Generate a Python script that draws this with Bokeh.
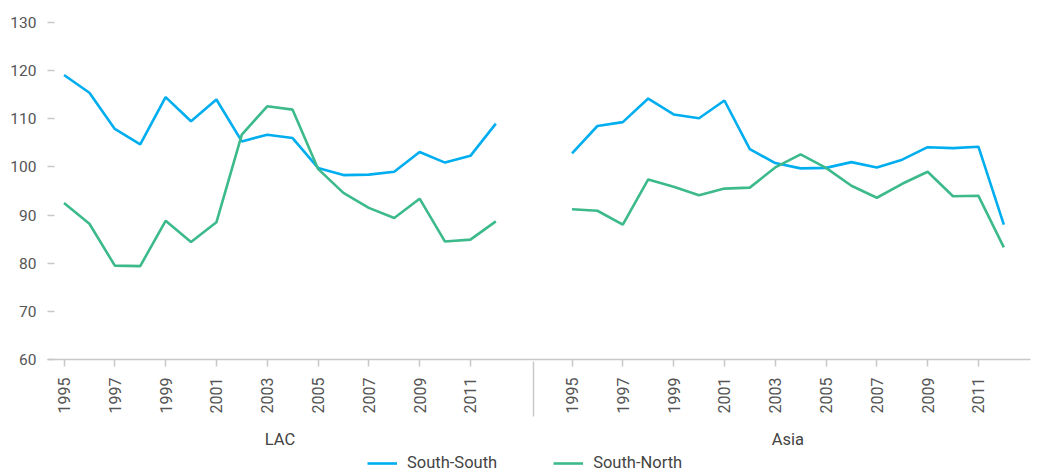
import numpy as np
from bokeh.plotting import figure
from bokeh.layouts import column
from bokeh.models import Range1d, LinearAxis, FixedTicker, Legend, LegendItem, ColumnDataSource
from bokeh.embed import file_html
from bokeh.resources import INLINE

# ---------------- data ----------------
years = ["1995", "1996", "1997", "1998", "1999", "2000", "2001", "2002", "2003",
         "2004", "2005", "2006", "2007", "2008", "2009", "2010", "2011", "2012"]
regions = ["LAC", "Asia"]
series_names = ["South-South", "South-North"]

lac_south_south = [119.1, 115.4, 107.9, 104.7, 114.5, 109.5, 114.0, 105.3, 106.7,
                   106.0, 99.8, 98.3, 98.4, 99.0, 103.1, 100.9, 102.3, 109.0]
lac_south_north = [92.5, 88.2, 79.5, 79.4, 88.8, 84.4, 88.5, 106.7, 112.6,
                   111.9, 99.6, 94.6, 91.5, 89.4, 93.4, 84.5, 84.9, 88.7]
asia_south_south = [102.8, 108.5, 109.3, 114.2, 110.9, 110.1, 113.8, 103.7, 100.8,
                    99.7, 99.8, 101.0, 99.9, 101.5, 104.1, 103.9, 104.2, 88.0]
asia_south_north = [91.2, 90.9, 88.0, 97.4, 95.9, 94.1, 95.5, 95.7, 99.9,
                    102.6, 99.8, 96.1, 93.6, 96.5, 99.0, 93.9, 94.0, 83.3]

y_ticks = [60, 70, 80, 90, 100, 110, 120, 130]

# ---------------- style ----------------
FONT = "Roboto"
BLUE = "#00aeef"
GREEN = "#3cba8b"
GREY_LINE = "#c8c8c8"
TEXT = "#555555"
group_gap = 3
W = 1034

n = len(years)
lac_x = list(range(n))
asia_x = [i + n - 1 + group_gap for i in range(n)]

lac_src = ColumnDataSource(dict(x=lac_x, ss=lac_south_south, sn=lac_south_north))
asia_src = ColumnDataSource(dict(x=asia_x, ss=asia_south_south, sn=asia_south_north))

p = figure(width=W, height=451, output_backend="svg", toolbar_location=None,
           x_range=Range1d(-0.65, asia_x[-1] + 1.05),
           y_range=Range1d(y_ticks[0], y_ticks[-1]),
           x_axis_location=None,
           min_border_top=22, min_border_left=47, min_border_right=4,
           min_border_bottom=92)
p.outline_line_color = None
p.xgrid.visible = False
p.ygrid.visible = False
p.background_fill_color = "white"
p.border_fill_color = "white"

r1 = p.line("x", "ss", source=lac_src, line_color=BLUE, line_width=2.6)
r2 = p.line("x", "sn", source=lac_src, line_color=GREEN, line_width=2.6)
r3 = p.line("x", "ss", source=asia_src, line_color=BLUE, line_width=2.6)
r4 = p.line("x", "sn", source=asia_src, line_color=GREEN, line_width=2.6)

# y axis
ya = p.yaxis[0]
ya.ticker = FixedTicker(ticks=y_ticks)
ya.axis_line_color = None
ya.major_tick_in = 7
ya.major_tick_out = 0
ya.major_tick_line_color = GREY_LINE
ya.major_tick_line_width = 1.5
ya.minor_tick_line_color = None
ya.major_label_standoff = 11
ya.major_label_text_font = FONT
ya.major_label_text_font_size = "15.5px"
ya.major_label_text_color = TEXT

# x axis with year labels
label_pos = []
overrides = {}
for xs in (lac_x, asia_x):
    for i, yr in enumerate(years):
        if int(yr) % 2 == 1:
            label_pos.append(xs[i])
            overrides[xs[i]] = yr
xa = LinearAxis(ticker=FixedTicker(ticks=label_pos, minor_ticks=[]),
                major_label_overrides=overrides,
                major_label_orientation=np.pi / 2,
                axis_line_color=GREY_LINE, axis_line_width=1.5,
                major_tick_in=0, major_tick_out=7,
                major_tick_line_color=GREY_LINE, major_tick_line_width=1.5,
                minor_tick_line_color=None,
                major_label_standoff=11,
                major_label_text_font=FONT, major_label_text_font_size="16px",
                major_label_text_color=TEXT)
p.add_layout(xa, "below")

# group labels + separator axis
group_centers = [float(np.mean(lac_x)), float(np.mean(asia_x))]
separator = (lac_x[-1] + asia_x[0]) / 2
ga = LinearAxis(ticker=FixedTicker(ticks=group_centers, minor_ticks=[separator]),
                major_label_overrides={c: r for c, r in zip(group_centers, regions)},
                axis_line_color=None,
                major_tick_in=0, major_tick_out=0, major_tick_line_color=None,
                minor_tick_in=55, minor_tick_out=0,
                minor_tick_line_color=GREY_LINE, minor_tick_line_width=1.5,
                major_label_standoff=13,
                major_label_text_font=FONT, major_label_text_font_size="16.5px",
                major_label_text_color="#444444")
p.add_layout(ga, "below")

# legend in a thin strip below the chart (its lines lie outside the strip's view)
lg = figure(width=W, height=21, output_backend="svg", toolbar_location=None,
            x_range=Range1d(-1000, -999), y_range=Range1d(-1000, -999),
            x_axis_location=None, y_axis_location=None,
            min_border=0)
lg.outline_line_color = None
lg.xgrid.visible = False
lg.ygrid.visible = False
k1 = lg.line("x", "ss", source=lac_src, line_color=BLUE, line_width=2.6)
k2 = lg.line("x", "sn", source=lac_src, line_color=GREEN, line_width=2.6)
legend = Legend(items=[LegendItem(label=series_names[0], renderers=[k1]),
                       LegendItem(label=series_names[1], renderers=[k2])],
                orientation="horizontal", location=(320, 0),
                border_line_color=None, background_fill_alpha=0,
                label_text_font=FONT, label_text_font_size="16.5px",
                label_text_color="#444444",
                glyph_width=30, glyph_height=18, label_standoff=10,
                spacing=56, margin=0, padding=0)
lg.add_layout(legend, "center")

layout = column(p, lg, spacing=0)
open("out.html", "w").write(file_html(layout, INLINE))
